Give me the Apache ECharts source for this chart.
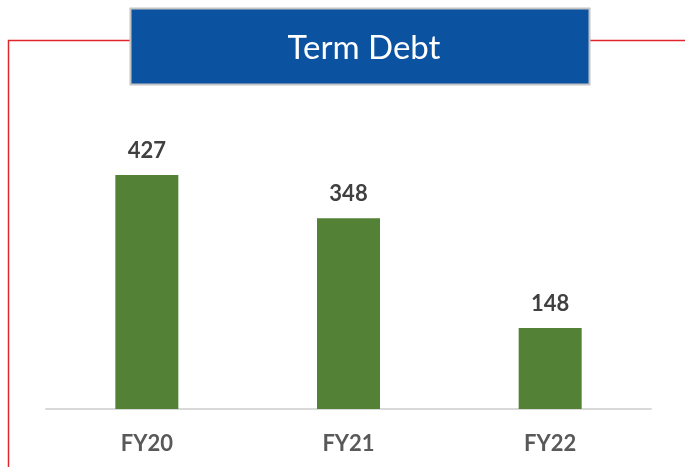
<!DOCTYPE html>
<html>
<head>
<meta charset="utf-8">
<script src="https://cdn.jsdelivr.net/npm/echarts@6/dist/echarts.min.js"></script>
<style>
  html, body { margin: 0; padding: 0; background: #fff; }
  #chart { width: 685px; height: 467px; }
</style>
</head>
<body>
<div id="chart"></div>
<script>
// values
const categories = ['FY20', 'FY21', 'FY22']
const termDebt = [427, 348, 148]
const chartTitle = 'Term Debt'

const chart = echarts.init(document.getElementById('chart'))

chart.setOption({
  animation: false,
  title: {
    text: chartTitle,
    left: 359,
    top: 27,
    textAlign: 'center',
    textStyle: {
      color: '#ffffff',
      fontFamily: 'Lato',
      fontWeight: 'normal',
      fontSize: 33
    },
    z: 10
  },
  graphic: [
    // red frame line
    {
      type: 'polyline',
      shape: { points: [[130, 40.5], [8.5, 40.5], [8.5, 467]] },
      style: { stroke: '#e0262c', lineWidth: 1.5, fill: null }
    },
    {
      type: 'line',
      shape: { x1: 589, y1: 40.5, x2: 685, y2: 40.5 },
      style: { stroke: '#e0262c', lineWidth: 1.5 }
    },
    // title box
    {
      type: 'rect',
      shape: { x: 130.5, y: 8.5, width: 459, height: 76 },
      style: { fill: '#0b52a0', stroke: '#c4c4c4', lineWidth: 2 },
      z: 5
    }
  ],
  grid: {
    left: 46,
    right: 34,
    top: 135,
    bottom: 58
  },
  xAxis: {
    type: 'category',
    data: categories,
    axisLine: { lineStyle: { color: '#d9d9d9', width: 2 } },
    axisTick: { show: false },
    axisLabel: {
      margin: 24,
      color: '#595959',
      fontFamily: 'Lato',
      fontWeight: 'bold',
      fontSize: 22
    }
  },
  yAxis: {
    type: 'value',
    min: 0,
    max: 500,
    show: false,
    splitLine: { show: false }
  },
  series: [
    {
      type: 'bar',
      data: termDebt,
      barWidth: 63,
      itemStyle: { color: '#538135' },
      label: {
        show: true,
        position: 'top',
        distance: 13,
        color: '#404040',
        fontFamily: 'Lato',
        fontWeight: 'bold',
        fontSize: 22
      }
    }
  ]
})
</script>
</body>
</html>
